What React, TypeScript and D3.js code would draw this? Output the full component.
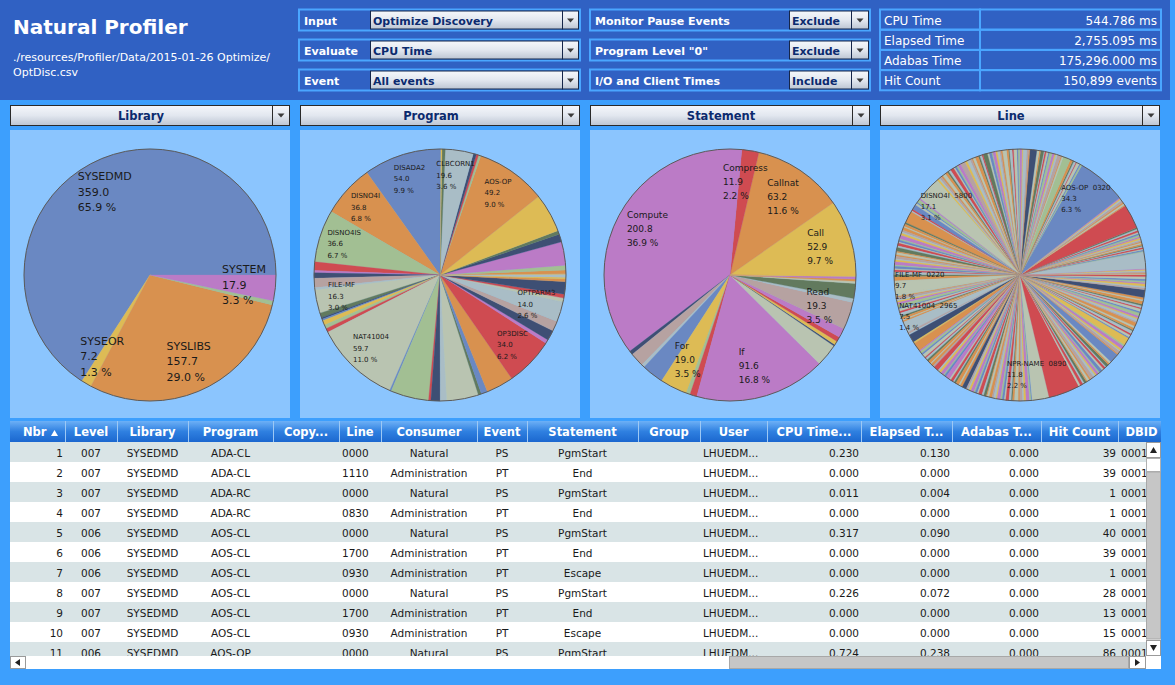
import React from 'react';
import * as d3 from 'd3';

// ---------- header data
const appTitle = 'Natural Profiler';
const sourcePath = ['./resources/Profiler/Data/2015-01-26 Optimize/', 'OptDisc.csv'];
const filterLabels = ['Input', 'Evaluate', 'Event'];
const filterValues = ['Optimize Discovery', 'CPU Time', 'All events'];
const optionLabels = ['Monitor Pause Events', 'Program Level "0"', 'I/O and Client Times'];
const optionValues = ['Exclude', 'Exclude', 'Include'];
const totalNames = ['CPU Time', 'Elapsed Time', 'Adabas Time', 'Hit Count'];
const totalValues = [544.786, 2755.095, 175296.0, 150899];
const totalUnits = ['ms', 'ms', 'ms', 'events'];

// ---------- pie data (CPU ms, counter-clockwise from 3 o'clock, alphabetical)
const panelTitles = ['Library', 'Program', 'Statement', 'Line'];

const libraryNames = ['SYSEDMD', 'SYSEOR', 'SYSLIBS', '', 'SYSTEM'];
const libraryValues = [359.0, 7.2, 157.7, 2.9, 17.9];

const programNames = ['', '', '', '', '', '', '', '', 'AOS-OP', '', '', '', 'CLBCORN1', '', '', 'DISADA2', 'DISNO4I', 'DISNO4IS',
  '', '', '', '', '', 'FILE-MF', '', '', '', '', '', '', 'NAT41004', '', '', '', '', '', '', '', '', '', 'OP3DISC', '', '', '',
  'OPTPARM3', '', '', '', '', '', ''];
const programValues = [0.5, 0.3, 2.7, 3.3, 16.3, 5.4, 2.7, 27.2, 49.2, 1.6, 1.6, 2.2, 19.6, 2.2, 1.1, 54.0, 36.8, 36.6, 6.0, 1.6,
  3.8, 6.5, 1.6, 16.3, 3.3, 1.1, 1.1, 3.3, 2.7, 2.7, 59.7, 1.1, 26.6, 1.6, 6.5, 4.4, 22.3, 2.2, 4.4, 19.1, 34.0, 2.7, 7.1, 7.1,
  14.0, 2.7, 2.7, 8.7, 1.9, 1.1, 1.6];

const statementNames = ['Call', 'Callnat', 'Compress', 'Compute', '', '', '', '', 'For', '', '', 'If', '', '', '', '', '', 'Read',
  '', '', '', '', '', ''];
const statementValues = [52.9, 63.2, 11.9, 200.8, 2.7, 9.8, 2.2, 15.3, 19.0, 2.7, 4.9, 91.6, 15.8, 1.1, 2.7, 3.3, 6.5, 19.3,
  2.7, 10.4, 1.6, 1.6, 1.6, 1.1];

// Line pie: plain numbers are unlabelled source lines
const lineSeries: (number | [string, number])[] = [
  0.8, 0.6, 1.0, 0.7, 0.9, 0.5, 11.5, 0.6, 0.9, 0.7, 1.1, 0.8, 0.6, 1.0, 0.9, 0.7, 0.8, 0.6, 1.2, 0.9, 1.3, 1.1, 0.9, 1.4, 1.0, 1.0,
  16.9,
  0.7, 1.2, 0.9, 1.5, 1.0, 0.8, 0.7,
  ['AOS-OP  0320', 34.3],
  1.2, 0.8, 2.1, 0.6, 1.5, 0.9, 1.8, 5.2, 1.1, 0.7, 2.4, 1.3, 0.9, 1.6, 2.0, 0.8, 1.4, 1.1, 0.6, 2.2, 1.0, 1.7, 4.8, 0.9, 1.3, 2.6,
  0.7, 1.5, 1.2, 0.8, 2.3, 1.0, 1.9, 0.6, 1.4, 2.8, 1.1, 0.9, 1.6, 1.3, 2.0, 0.7, 1.8, 1.2, 3.1, 0.9, 1.5, 1.0, 2.4, 1.7, 0.8, 1.3,
  2.2, 1.6, 3.5, 2.0, 1.1, 1.4, 0.9, 2.5, 1.6, 1.0, 1.8, 2.2, 1.2, 1.5, 0.9, 1.4,
  ['DISNO4I  5800', 17.1],
  1.0, 2.3, 0.8, 1.4, 3.6, 1.1, 0.9, 8.2, 1.2, 1.7, 0.7, 2.1, 1.3, 0.9, 1.6, 2.4, 1.0, 1.4, 0.8, 1.9, 1.2, 2.6, 0.9, 1.5, 1.1, 1.8,
  0.7, 1.3, 2.2, 1.0, 1.6, 0.9, 1.4, 2.0, 1.5, 2.6,
  ['FILE-MF  0220', 9.7],
  1.2, 0.8, 1.5, 0.9, 1.1, 1.4, 2.2, 0.9, 1.7, 1.3, 2.0, 1.1, 1.6, 0.8, 1.0,
  ['NAT41004  2965', 7.5],
  1.4, 0.9, 5.6, 1.2, 6.0, 0.8, 1.7, 1.1, 2.3, 0.9, 1.5, 1.3, 2.0, 0.7, 1.8, 1.2, 3.4, 1.0, 1.6, 2.2, 0.8, 1.4, 2.9, 1.1, 1.9, 0.9,
  1.3, 2.4, 1.0, 1.7, 3.0, 1.2, 0.8, 1.5, 2.1, 1.0, 1.6, 0.9, 2.5, 1.3, 1.8, 0.7, 1.4, 2.0, 1.1, 1.6, 0.9, 2.3, 1.2, 1.5, 1.0, 2.2,
  1.7, 0.8, 1.4, 2.6, 1.1, 1.9, 0.9, 1.5, 2.4, 1.2, 0.6,
  ['NPR-NAME  0890', 11.8],
  21.8,
  1.4, 2.0, 1.1, 1.7, 0.9, 1.5, 1.2, 2.3, 1.5, 1.1, 1.8, 0.9, 2.2, 1.3, 1.6, 0.8, 2.0, 1.2, 1.5, 6.5, 1.0, 1.9, 0.7, 1.4, 2.3, 1.1,
  5.4, 0.9, 1.6, 1.2, 2.0, 0.8, 1.5, 1.3, 2.6, 1.0, 1.7, 0.9, 1.4, 2.1, 1.2, 1.8, 0.8, 1.5, 1.1, 2.2, 0.9, 1.6, 5.4, 1.3, 1.0, 1.7,
  0.9, 1.2, 1.3, 1.6, 1.1,
];

// ---------- table data
const tableHeaders = ['Nbr', 'Level', 'Library', 'Program', 'Copy...', 'Line', 'Consumer', 'Event', 'Statement', 'Group', 'User',
  'CPU Time...', 'Elapsed T...', 'Adabas T...', 'Hit Count', 'DBID'];
const rowNbr = [1, 2, 3, 4, 5, 6, 7, 8, 9, 10, 11];
const rowLevel = ['007', '007', '007', '007', '006', '006', '006', '007', '007', '007', '006'];
const rowLibrary = ['SYSEDMD', 'SYSEDMD', 'SYSEDMD', 'SYSEDMD', 'SYSEDMD', 'SYSEDMD', 'SYSEDMD', 'SYSEDMD', 'SYSEDMD', 'SYSEDMD', 'SYSEDMD'];
const rowProgram = ['ADA-CL', 'ADA-CL', 'ADA-RC', 'ADA-RC', 'AOS-CL', 'AOS-CL', 'AOS-CL', 'AOS-CL', 'AOS-CL', 'AOS-CL', 'AOS-OP'];
const rowLine = ['0000', '1110', '0000', '0830', '0000', '1700', '0930', '0000', '1700', '0930', '0000'];
const rowConsumer = ['Natural', 'Administration', 'Natural', 'Administration', 'Natural', 'Administration', 'Administration',
  'Natural', 'Administration', 'Administration', 'Natural'];
const rowEvent = ['PS', 'PT', 'PS', 'PT', 'PS', 'PT', 'PT', 'PS', 'PT', 'PT', 'PS'];
const rowStatement = ['PgmStart', 'End', 'PgmStart', 'End', 'PgmStart', 'End', 'Escape', 'PgmStart', 'End', 'Escape', 'PgmStart'];
const rowUser = ['LHUEDM...', 'LHUEDM...', 'LHUEDM...', 'LHUEDM...', 'LHUEDM...', 'LHUEDM...', 'LHUEDM...', 'LHUEDM...', 'LHUEDM...',
  'LHUEDM...', 'LHUEDM...'];
const rowCpu = [0.230, 0.000, 0.011, 0.000, 0.317, 0.000, 0.000, 0.226, 0.000, 0.000, 0.724];
const rowElapsed = [0.130, 0.000, 0.004, 0.000, 0.090, 0.000, 0.000, 0.072, 0.000, 0.000, 0.238];
const rowAdabas = [0, 0, 0, 0, 0, 0, 0, 0, 0, 0, 0];
const rowHits = [39, 39, 1, 1, 40, 39, 1, 28, 13, 15, 86];
const rowDbid = ['0001', '0001', '0001', '0001', '0001', '0001', '0001', '0001', '0001', '0001', '0001'];

// ---------- styles
const FONT = '"DejaVu Sans", Verdana, sans-serif';
const BG = '#3d9ffd';
const HEAD_BG = '#3061c3';
const PANEL_BG = '#8bc5fe';
const EDGE = '#4aa6ff';
const NAVY = '#0b2a6e';
const palette: Record<string, string> = {
  B: '#6a88c2', O: '#d8914f', Y: '#ddbb55', R: '#cf4b51', P: '#bb7bc6', G: '#a2bf93',
  D: '#627a5e', N: '#3e4f74', L: '#a9bdc6', K: '#b6a2a1', S: '#b9c4b1',
};
const libraryColors = 'BYOGP';
const programColors = 'LYOGPNDYOGRNLDYBOGRPNKLSDNBYGRSBGRNLSDBORPNKLSRNOYL';
const statementColors = 'YORPNKLBYGRPSNYRPKLDSOPY';
const lineNotableColors = 'LRBGNDKSBOSLNORPNSRBYN';
const lineThinColors = 'SOKLYPGBSRLDO';
const colWidths = [55, 52, 71, 85, 66, 42, 96, 50, 111, 62, 67, 94, 91, 89, 77, 47];
const colAlign = ['end', 'middle', 'middle', 'middle', 'middle', 'start', 'middle', 'middle', 'middle', 'middle', 'start',
  'end', 'end', 'end', 'end', 'start'];

const measureCtx = typeof document !== 'undefined' ? document.createElement('canvas').getContext('2d') : null;
const measure = (s: string, size: number) => {
  if (!measureCtx) return s.length * size * 0.6;
  measureCtx.font = `${size}px "DejaVu Sans"`;
  return measureCtx.measureText(s).width;
};

const Arrow = ({ cx, cy }: { cx: number; cy: number }) => (
  <path d={`M${cx - 3.5},${cy - 1.5}h7l-3.5,4z`} fill="#3a3a3a" />
);

function PieChart({ cx, cy, r, names, values, colors, fontSize, lineHeight, labelAt }: any) {
  const slices = names.map((name: string, i: number) => ({ name, value: values[i], color: palette[colors[i]] }));
  const total = d3.sum(values as number[]);
  const layout = d3.pie<any>().value((d: any) => d.value).sort(null)
    .startAngle(Math.PI / 2).endAngle(Math.PI / 2 - 2 * Math.PI);
  const arcs = layout(slices);
  const arcGen = d3.arc<any>().innerRadius(0).outerRadius(r);
  const labelArc = d3.arc<any>().innerRadius(r * labelAt).outerRadius(r * labelAt);
  const fmt = d3.format('.1f');
  return (
    <g transform={`translate(${cx},${cy})`}>
      {arcs.map((a: any, i: number) => (
        <path key={i} d={arcGen(a) || ''} fill={a.data.color} stroke={a.data.color} strokeWidth={0.3} />
      ))}
      <circle r={r} fill="none" stroke="#5b5b5b" strokeWidth={1} />
      {arcs.filter((a: any) => a.data.name).map((a: any, i: number) => {
        const [lx, ly] = labelArc.centroid(a);
        const lines = [a.data.name, fmt(a.data.value), fmt((a.data.value / total) * 100) + ' %'];
        const bw = d3.max(lines, (s) => measure(s, fontSize)) || 0;
        const x = lx - bw / 2;
        const y0 = ly - lineHeight + fontSize * 0.35;
        return (
          <text key={i} fontSize={fontSize} fill="#1a1a1a" style={{ whiteSpace: 'pre' }}>
            {lines.map((s, j) => (
              <tspan key={j} x={x} y={y0 + j * lineHeight}>{s}</tspan>
            ))}
          </text>
        );
      })}
    </g>
  );
}

export default function App() {
  // line pie slices + colours
  const lineNames = lineSeries.map((d) => (Array.isArray(d) ? d[0] : ''));
  const lineValues = lineSeries.map((d) => (Array.isArray(d) ? d[1] : d));
  let nNotable = 0;
  let nThin = 0;
  const lineColors = lineValues.map((v) =>
    v >= 2.9 ? lineNotableColors[nNotable++] : lineThinColors[nThin++ % lineThinColors.length]);

  const panels = [
    { names: libraryNames, values: libraryValues, colors: libraryColors, fs: 11, lh: 15.5, at: 0.75 },
    { names: programNames, values: programValues, colors: programColors, fs: 7, lh: 11.5, at: 0.8 },
    { names: statementNames, values: statementValues, colors: statementColors, fs: 9, lh: 14, at: 0.75 },
    { names: lineNames, values: lineValues, colors: lineColors, fs: 7, lh: 11, at: 0.8 },
  ];

  const fmt3 = d3.format('.3f');
  const tableCells: string[][] = [
    rowNbr.map(String), rowLevel, rowLibrary, rowProgram, rowNbr.map(() => ''), rowLine, rowConsumer, rowEvent, rowStatement,
    rowNbr.map(() => ''), rowUser, rowCpu.map(fmt3), rowElapsed.map(fmt3), rowAdabas.map(fmt3), rowHits.map(String), rowDbid,
  ];
  const tableX = 10;
  const colX = d3.cumsum([tableX, ...colWidths]);
  const headTop = 421;
  const bodyTop = 442;
  const rowH = 20;
  const bodyBottom = 656;
  const vsX = 1146;

  return (
    <div style={{ position: 'absolute', left: 0, top: 0, width: 1175, height: 685, overflow: 'hidden' }}>
      <svg width={1175} height={685} style={{ display: 'block', fontFamily: FONT }}>
        <defs>
          <linearGradient id="gDrop" x1="0" y1="0" x2="0" y2="1">
            <stop offset="0" stopColor="#f5f7fb" />
            <stop offset="0.5" stopColor="#e2e7ef" />
            <stop offset="1" stopColor="#bcc5d3" />
          </linearGradient>
          <linearGradient id="gHead" x1="0" y1="0" x2="0" y2="1">
            <stop offset="0" stopColor="#6db0f6" />
            <stop offset="0.5" stopColor="#2f80e0" />
            <stop offset="1" stopColor="#1b67cf" />
          </linearGradient>
          <clipPath id="cBody">
            <rect x={tableX} y={bodyTop} width={vsX - tableX} height={bodyBottom - bodyTop} />
          </clipPath>
          <clipPath id="cHead">
            <rect x={tableX} y={headTop} width={1151} height={bodyTop - headTop} />
          </clipPath>
        </defs>

        <rect width={1175} height={685} fill={BG} />
        <rect width={1170} height={100} fill={HEAD_BG} />

        {/* title */}
        <text x={13} y={34} fontSize={20} fontWeight="bold" fill="#fff">{appTitle}</text>
        {sourcePath.map((s, i) => (
          <text key={i} x={13} y={61 + i * 15} fontSize={11} fill="#fff">{s}</text>
        ))}

        {/* filter controls */}
        {filterLabels.map((lab, i) => {
          const y = 9.5 + i * 30;
          return (
            <g key={lab}>
              <rect x={299} y={y} width={281} height={21} fill={HEAD_BG} stroke={EDGE} strokeWidth={2} />
              <text x={304} y={y + 15} fontSize={11} fontWeight="bold" fill="#fff">{lab}</text>
              <rect x={370.5} y={y + 1.5} width={192} height={18} fill="url(#gDrop)" stroke="#15264a" />
              <rect x={562.5} y={y + 1.5} width={16} height={18} fill="url(#gDrop)" stroke="#15264a" />
              <Arrow cx={570.5} cy={y + 10.5} />
              <text x={373} y={y + 15} fontSize={11} fontWeight="bold" fill={NAVY}>{filterValues[i]}</text>
            </g>
          );
        })}
        {optionLabels.map((lab, i) => {
          const y = 9.5 + i * 30;
          return (
            <g key={lab}>
              <rect x={590} y={y} width={280} height={21} fill={HEAD_BG} stroke={EDGE} strokeWidth={2} />
              <text x={595} y={y + 15} fontSize={11} fontWeight="bold" fill="#fff">{lab}</text>
              <rect x={789.5} y={y + 1.5} width={62} height={18} fill="url(#gDrop)" stroke="#15264a" />
              <rect x={851.5} y={y + 1.5} width={17} height={18} fill="url(#gDrop)" stroke="#15264a" />
              <Arrow cx={860} cy={y + 10.5} />
              <text x={792} y={y + 15} fontSize={11} fontWeight="bold" fill={NAVY}>{optionValues[i]}</text>
            </g>
          );
        })}

        {/* totals */}
        {totalNames.map((n, i) => {
          const y = 9.5 + i * 20.2;
          const val = (totalUnits[i] === 'events' ? d3.format(',d') : d3.format(',.3f'))(totalValues[i]);
          return (
            <g key={n}>
              <rect x={880} y={y} width={100} height={20.2} fill="none" stroke={EDGE} strokeWidth={2} />
              <rect x={980} y={y} width={181} height={20.2} fill="none" stroke={EDGE} strokeWidth={2} />
              <text x={884} y={y + 15} fontSize={12} fill="#fff">{n}</text>
              <text x={1157} y={y + 15} fontSize={12} fill="#fff" textAnchor="end">{`${val} ${totalUnits[i]}`}</text>
            </g>
          );
        })}

        {/* pie panels */}
        {panelTitles.map((t, i) => {
          const x0 = 10 + i * 290;
          const p = panels[i];
          return (
            <g key={t}>
              <rect x={x0 + 0.5} y={105.5} width={279} height={20} fill="url(#gDrop)" stroke="#2a2a2a" />
              <line x1={x0 + 262.5} x2={x0 + 262.5} y1={106} y2={125} stroke="#2a2a2a" />
              <Arrow cx={x0 + 271} cy={115} />
              <text x={x0 + 131} y={120} fontSize={11.5} fontWeight="bold" fill={NAVY} textAnchor="middle">{t}</text>
              <rect x={x0} y={130} width={280} height={288} fill={PANEL_BG} />
              <PieChart cx={x0 + 140} cy={275} r={126} names={p.names} values={p.values} colors={p.colors}
                fontSize={p.fs} lineHeight={p.lh} labelAt={p.at} />
            </g>
          );
        })}

        {/* table header */}
        <rect x={tableX} y={headTop} width={1151} height={bodyTop - headTop} fill="url(#gHead)" />
        <g clipPath="url(#cHead)">
          {tableHeaders.map((h, i) => (
            <g key={h}>
              {i > 0 && <line x1={colX[i] + 0.5} x2={colX[i] + 0.5} y1={headTop} y2={bodyTop} stroke="#9cc8f5" />}
              <text x={i === 0 ? colX[i] + 13 : colX[i] + colWidths[i] / 2} y={436} fontSize={11.5} fontWeight="bold"
                fill="#fff" textAnchor={i === 0 ? 'start' : 'middle'}>{h}</text>
            </g>
          ))}
          <path d={`M${colX[0] + 41},436h7l-3.5,-6z`} fill="#fff" />
        </g>

        {/* table body */}
        <g clipPath="url(#cBody)">
          {rowNbr.map((n, r) => (
            <rect key={n} x={tableX} y={bodyTop + r * rowH} width={1151} height={rowH}
              fill={r % 2 === 0 ? '#d9e4e6' : '#ffffff'} />
          ))}
          {colX.slice(1, -1).map((x, i) => (
            <line key={i} x1={x + 0.5} x2={x + 0.5} y1={bodyTop} y2={bodyBottom} stroke="#111" />
          ))}
          {tableCells.map((col, c) =>
            col.map((v, r) => {
              const a = colAlign[c];
              const x = a === 'end' ? colX[c + 1] - 2 : a === 'start' ? colX[c] + 3 : colX[c] + colWidths[c] / 2;
              return (
                <text key={`${c}-${r}`} x={x} y={bodyTop + r * rowH + 14.5} fontSize={10.5} fill="#1a1a1a"
                  textAnchor={a}>{v}</text>
              );
            }))}
        </g>

        {/* vertical scrollbar */}
        <rect x={vsX} y={bodyTop} width={15} height={bodyBottom - bodyTop} fill="#f4f4f4" />
        <rect x={vsX + 0.5} y={bodyTop + 0.5} width={14} height={15} fill="#fff" stroke="#9a9a9a" />
        <path d={`M${vsX + 4},${bodyTop + 11}h7l-3.5,-6z`} fill="#222" />
        <rect x={vsX + 0.5} y={bodyTop + 16.5} width={14} height={13} fill="#fff" stroke="#b0b0b0" />
        <rect x={vsX + 0.5} y={bodyTop + 30} width={14} height={167} fill="#c6c6c6" stroke="#a8a8a8" />
        <rect x={vsX + 0.5} y={bodyBottom - 15.5} width={14} height={15} fill="#fff" stroke="#9a9a9a" />
        <path d={`M${vsX + 4},${bodyBottom - 11}h7l-3.5,6z`} fill="#222" />

        {/* horizontal scrollbar */}
        <rect x={tableX} y={bodyBottom} width={1151} height={13} fill="#fff" />
        <rect x={tableX + 0.5} y={bodyBottom + 0.5} width={15} height={12} fill="#fff" stroke="#9a9a9a" />
        <path d={`M${tableX + 5},${bodyBottom + 6.5}l5,-3.5v7z`} fill="#222" />
        <rect x={729.5} y={bodyBottom + 0.5} width={399} height={12} fill="#c6c6c6" stroke="#a8a8a8" />
        <rect x={1129.5} y={bodyBottom + 0.5} width={16} height={12} fill="#fff" stroke="#9a9a9a" />
        <path d={`M${1140},${bodyBottom + 6.5}l-5,-3.5v7z`} fill="#222" />
      </svg>
    </div>
  );
}
